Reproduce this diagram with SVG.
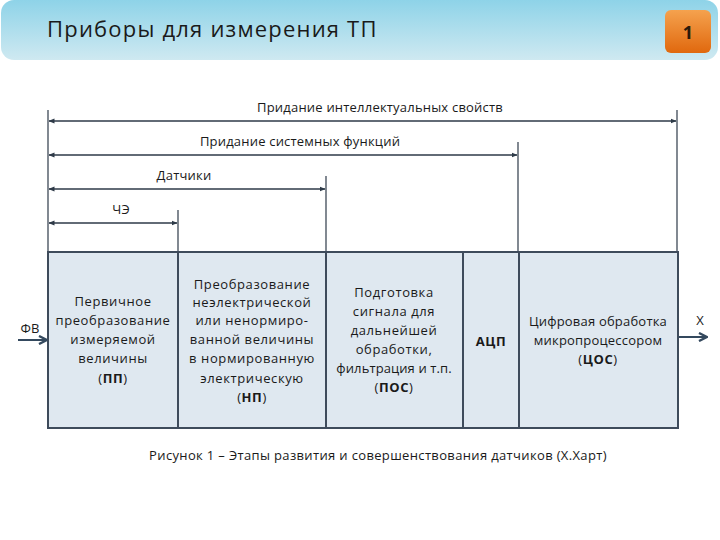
<svg xmlns="http://www.w3.org/2000/svg" width="720" height="540" viewBox="0 0 720 540">
<defs>
<linearGradient id="hdr" x1="0" y1="0" x2="0" y2="1">
<stop offset="0" stop-color="#8ed3e8"/>
<stop offset="1" stop-color="#cfe9f1"/>
</linearGradient>
<linearGradient id="badge" x1="0" y1="0" x2="0" y2="1">
<stop offset="0" stop-color="#f5a24e"/>
<stop offset="1" stop-color="#e0680e"/>
</linearGradient>
<marker id="dim" viewBox="0 0 6 6" refX="5.5" refY="3" markerWidth="6" markerHeight="6" orient="auto-start-reverse" markerUnits="userSpaceOnUse">
<path d="M0,0.5 L6,3 L0,5.5 Z" fill="#2e3a48"/>
</marker>
<marker id="arr" viewBox="0 0 10 10" refX="9" refY="5" markerWidth="10" markerHeight="10" orient="auto" markerUnits="userSpaceOnUse">
<path d="M1,1 L9,5 L1,9" fill="none" stroke="#34495e" stroke-width="2.4"/>
</marker>
</defs>
<style>
text{font-family:"Open Sans","DejaVu Sans",sans-serif;fill:#1a1a1a}
.lbl{font-size:13px;text-anchor:middle;letter-spacing:0.2px}
.bx{font-size:13px;text-anchor:middle;letter-spacing:0.6px}
.box{fill:#dfe8f0;stroke:#3e4b5b;stroke-width:2}
.dim{stroke:#2e3a48;stroke-width:1.6;fill:none}
.ext{stroke:#2e3a48;stroke-width:1.2;fill:none}
.b{font-weight:bold}
</style>
<rect x="1" y="0" width="717" height="60" rx="13" fill="url(#hdr)"/>
<text x="47" y="37" style="font-size:22px;letter-spacing:1.2px">Приборы для измерения ТП</text>
<g id="badge1">
<rect x="665" y="10" width="46" height="43" rx="6" fill="url(#badge)"/>
<text x="688" y="39" style="font-size:18px;font-weight:bold;text-anchor:middle;fill:#2a1a0a">1</text>
</g>

<g id="dimensions">
<line class="ext" x1="48" y1="110" x2="48" y2="252"/>
<line class="ext" x1="677" y1="110" x2="677" y2="252"/>
<line class="ext" x1="518" y1="142" x2="518" y2="252"/>
<line class="ext" x1="326" y1="176" x2="326" y2="252"/>
<line class="ext" x1="178" y1="210" x2="178" y2="252"/>
<line class="dim" x1="49" y1="121" x2="676" y2="121" marker-start="url(#dim)" marker-end="url(#dim)"/>
<line class="dim" x1="49" y1="155" x2="517" y2="155" marker-start="url(#dim)" marker-end="url(#dim)"/>
<line class="dim" x1="49" y1="189" x2="325" y2="189" marker-start="url(#dim)" marker-end="url(#dim)"/>
<line class="dim" x1="49" y1="223" x2="177" y2="223" marker-start="url(#dim)" marker-end="url(#dim)"/>
<text class="lbl" x="380" y="112">Придание интеллектуальных свойств</text>
<text class="lbl" x="300" y="146">Придание системных функций</text>
<text class="lbl" x="184" y="180">Датчики</text>
<text class="lbl" x="121" y="214">ЧЭ</text>
</g>

<g id="connectors">
<line x1="18" y1="340" x2="47" y2="340" stroke="#34495e" stroke-width="2" marker-end="url(#arr)"/>
<line x1="679" y1="337" x2="707" y2="337" stroke="#34495e" stroke-width="2" marker-end="url(#arr)"/>
<text class="lbl" x="30" y="333">ФВ</text>
<text class="lbl" x="700" y="325">Х</text>
</g>

<g id="pp">
<rect class="box" x="48" y="252" width="130" height="176"/>
<text class="bx" x="113" y="306">Первичное</text>
<text class="bx" x="113" y="325">преобразование</text>
<text class="bx" x="113" y="344">измеряемой</text>
<text class="bx" x="113" y="363">величины</text>
<text class="bx" x="113" y="383">(<tspan class="b">ПП</tspan>)</text>
</g>
<g id="np">
<rect class="box" x="178" y="252" width="148" height="176"/>
<text class="bx" x="252" y="289">Преобразование</text>
<text class="bx" x="252" y="307">неэлектрической</text>
<text class="bx" x="252" y="325">или ненормиро-</text>
<text class="bx" x="252" y="344">ванной величины</text>
<text class="bx" x="252" y="363">в нормированную</text>
<text class="bx" x="252" y="383">электрическую</text>
<text class="bx" x="252" y="402">(<tspan class="b">НП</tspan>)</text>
</g>
<g id="pos">
<rect class="box" x="326" y="252" width="137" height="176"/>
<text class="bx" x="394" y="297">Подготовка</text>
<text class="bx" x="394" y="316">сигнала для</text>
<text class="bx" x="394" y="335">дальнейшей</text>
<text class="bx" x="394" y="354">обработки,</text>
<text class="bx" x="394" y="373" style="letter-spacing:0.1px">фильтрация и т.п.</text>
<text class="bx" x="394" y="392">(<tspan class="b">ПОС</tspan>)</text>
</g>
<g id="acp">
<rect class="box" x="463" y="252" width="56" height="176"/>
<text class="bx b" x="491" y="346">АЦП</text>
</g>
<g id="cos">
<rect class="box" x="519" y="252" width="159" height="176"/>
<text class="bx" x="598" y="326" style="letter-spacing:0.2px">Цифровая обработка</text>
<text class="bx" x="598" y="345" style="letter-spacing:0.2px">микропроцессором</text>
<text class="bx" x="598" y="364">(<tspan class="b">ЦОС</tspan>)</text>
</g>

<text class="lbl" x="378" y="460" style="letter-spacing:0.35px">Рисунок 1 – Этапы развития и совершенствования датчиков (Х.Харт)</text>
</svg>
